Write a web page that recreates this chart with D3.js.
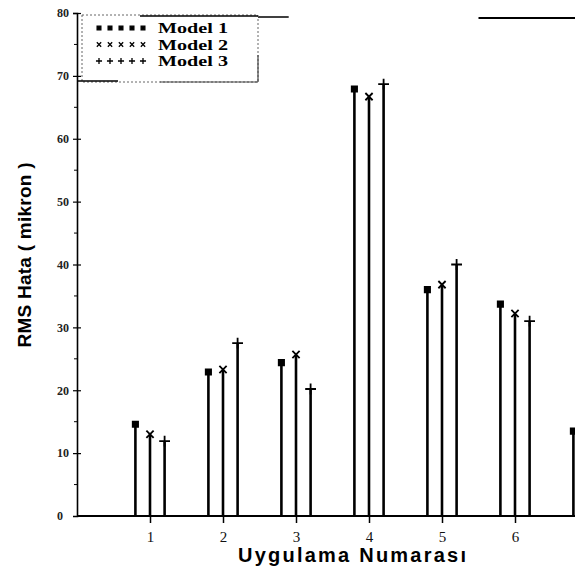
<!DOCTYPE html>
<html>
<head>
<meta charset="utf-8">
<script src="https://cdn.jsdelivr.net/npm/d3@7/dist/d3.min.js"></script>
<style>
  body { margin: 0; background: #fff; }
  svg { display: block; }
</style>
</head>
<body>
<div id="chart"></div>
<script>
// values
var groups = [1, 2, 3, 4, 5, 6, 7];
var model1 = [14.6, 22.9, 24.4, 67.9, 36.0, 33.7, 13.5];
var model2 = [13.0, 23.3, 25.7, 66.7, 36.8, 32.2, null];
var model3 = [11.9, 27.5, 20.2, 68.7, 40.0, 31.0, null];
var seriesNames = ["Model 1", "Model 2", "Model 3"];
var yTicks = [0, 10, 20, 30, 40, 50, 60, 70, 80];
var xTicks = [1, 2, 3, 4, 5, 6];

var width = 575, height = 577;
var svg = d3.select("#chart").append("svg").attr("width", width).attr("height", height);

var x = d3.scaleLinear().domain([0, 7]).range([77, 588]);
var y = d3.scaleLinear().domain([0, 80]).range([516, 13]);
var offsets = [-0.2, 0, 0.2];

var series = [model1, model2, model3].map((vals, i) => {
  return {name: seriesNames[i], offset: offsets[i], values: groups.map((g, j) => ({g: g, v: vals[j]})).filter(d => d.v != null)};
});

var symTimes = d3.symbolTimes || d3.symbolX;
var symbols = [d3.symbolSquare, symTimes, d3.symbolPlus];
var symSizes = [28, 36, 40];

// top frame line (broken in the scan)
svg.append("line").attr("x1", x(0.9)).attr("x2", x(2.9)).attr("y1", y(80) + 4).attr("y2", y(80) + 4)
  .attr("stroke", "#000").attr("stroke-width", 1.6);
svg.append("line").attr("x1", x(5.5)).attr("x2", x(7)).attr("y1", y(80) + 5).attr("y2", y(80) + 5)
  .attr("stroke", "#000").attr("stroke-width", 2);

// y axis
var yAxis = d3.axisLeft(y).tickValues(yTicks).tickSize(4).tickFormat(d3.format("d"));
var gy = svg.append("g").attr("transform", "translate(" + x(0) + ",0)").call(yAxis);
gy.select(".domain").attr("stroke-width", 1.6);
gy.selectAll(".tick line").attr("x2", 4).attr("x1", -4).attr("stroke-width", 1.2);
gy.selectAll(".tick text").attr("x", -8).style("font-family", "'Liberation Serif', serif")
  .style("font-size", "12px").style("font-weight", "bold").attr("fill", "#222");
gy.selectAll(".tick").filter(d => d === 0).select("line").remove();
gy.selectAll(".tick").filter(d => d === 0).select("text").attr("x", -14);
// minor ticks
svg.append("g").selectAll("line").data(d3.range(5, 80, 10)).enter().append("line")
  .attr("x1", x(0) - 3).attr("x2", x(0)).attr("y1", d => y(d)).attr("y2", d => y(d))
  .attr("stroke", "#000").attr("stroke-width", 1);

// x axis
var xAxis = d3.axisBottom(x).tickValues(xTicks).tickSize(7).tickPadding(8).tickFormat(d3.format("d"));
var gx = svg.append("g").attr("transform", "translate(0," + y(0) + ")").call(xAxis);
gx.select(".domain").attr("d", "M" + x(0) + ",0H" + width).attr("stroke-width", 2);
gx.selectAll(".tick line").attr("stroke-width", 1.5);
gx.selectAll(".tick text").style("font-family", "'Liberation Serif', serif")
  .style("font-size", "15px").attr("fill", "#111");

// stems and markers
series.forEach((s, i) => {
  var g = svg.append("g").attr("class", "series" + (i + 1));
  g.selectAll("line").data(s.values).enter().append("line")
    .attr("x1", d => x(d.g + s.offset)).attr("x2", d => x(d.g + s.offset))
    .attr("y1", y(0)).attr("y2", d => y(d.v))
    .attr("stroke", "#000").attr("stroke-width", 2.6);
  g.selectAll("path").data(s.values).enter().append("path")
    .attr("transform", d => "translate(" + x(d.g + s.offset) + "," + y(d.v) + ")")
    .attr("d", d3.symbol().type(symbols[i]).size(symSizes[i]))
    .attr("fill", i === 0 ? "#000" : "none").attr("stroke", "#000").attr("stroke-width", 1.8);
});

// legend
var lg = svg.append("g").attr("class", "legend");
lg.append("rect").attr("x", 82).attr("y", 15).attr("width", 176).attr("height", 67)
  .attr("fill", "#fff").attr("stroke", "#666").attr("stroke-width", 1).attr("stroke-dasharray", "2,2");
lg.append("line").attr("x1", 140).attr("x2", 258).attr("y1", 16).attr("y2", 16).attr("stroke", "#000").attr("stroke-width", 1.5);
lg.append("line").attr("x1", 78).attr("x2", 118).attr("y1", 81).attr("y2", 81).attr("stroke", "#000").attr("stroke-width", 1.5);
lg.append("line").attr("x1", 160).attr("x2", 258).attr("y1", 82).attr("y2", 82).attr("stroke", "#444").attr("stroke-width", 1.2);
lg.append("line").attr("x1", 258).attr("x2", 258).attr("y1", 55).attr("y2", 82).attr("stroke", "#444").attr("stroke-width", 1.2);
seriesNames.forEach((name, i) => {
  var ly = 28 + i * 16.5;
  lg.selectAll(".m" + i).data(d3.range(5)).enter().append("path")
    .attr("transform", k => "translate(" + (99 + k * 11) + "," + ly + ")")
    .attr("d", d3.symbol().type(symbols[i]).size(14))
    .attr("fill", i === 0 ? "#000" : "none").attr("stroke", "#000").attr("stroke-width", 1.3);
  lg.append("text").attr("x", 158).attr("y", ly + 5).text(name)
    .attr("textLength", 70).attr("lengthAdjust", "spacingAndGlyphs")
    .style("font-family", "'Liberation Serif', serif").style("font-size", "15px").style("font-weight", "bold");
});

// axis titles
svg.append("text").attr("x", 352).attr("y", 562).attr("text-anchor", "middle")
  .attr("textLength", 228).attr("lengthAdjust", "spacing")
  .style("font-family", "'Liberation Sans', Arial, sans-serif").style("font-size", "20px").style("font-weight", "bold")
  .text("Uygulama Numarası");
svg.append("text").attr("transform", "translate(31,255) rotate(-90)").attr("text-anchor", "middle")
  .attr("textLength", 185).attr("lengthAdjust", "spacing")
  .style("font-family", "'Liberation Sans', Arial, sans-serif").style("font-size", "19px").style("font-weight", "bold")
  .text("RMS Hata ( mikron )");
</script>
</body>
</html>
